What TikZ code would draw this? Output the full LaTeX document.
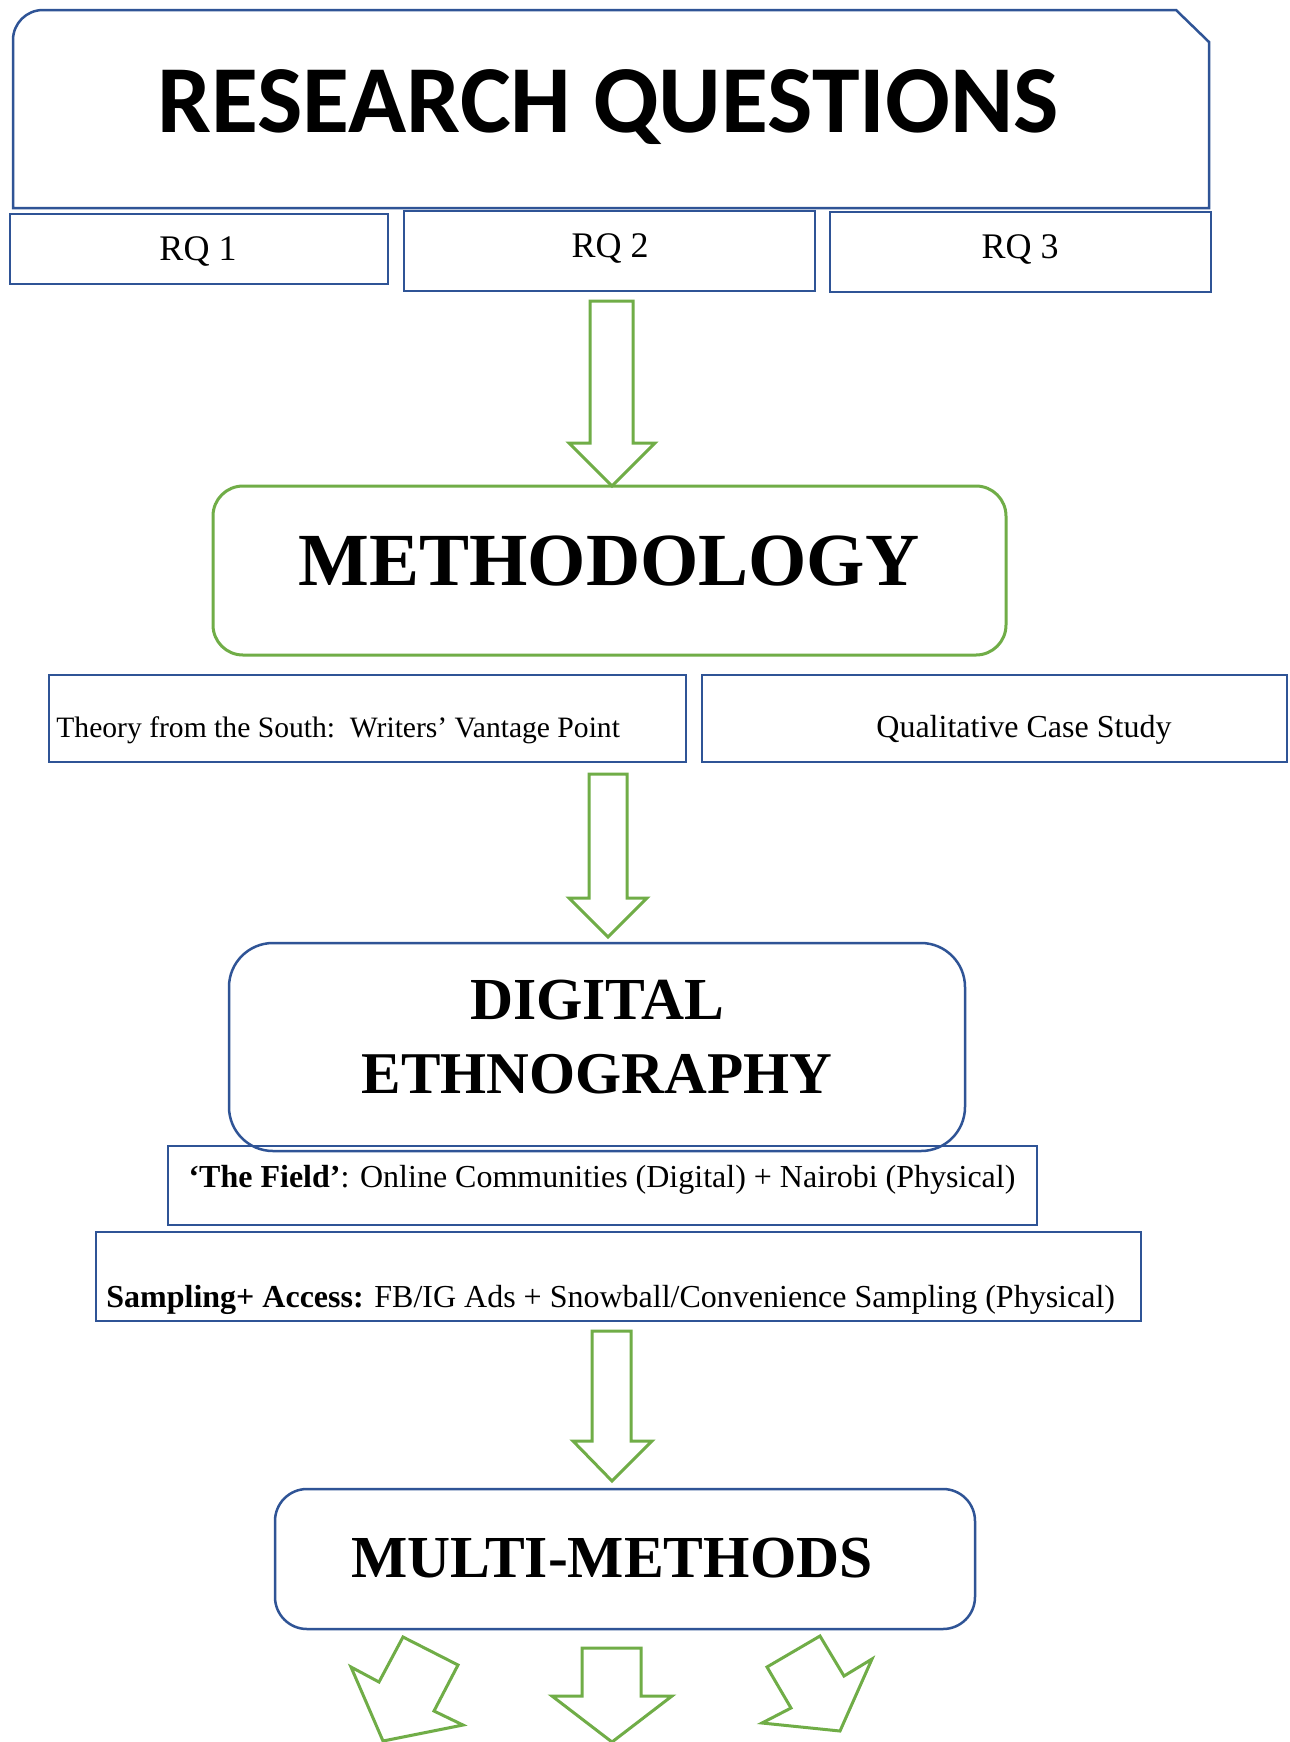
\documentclass[tikz,border=0pt]{standalone}
\usepackage{fontspec}
\setmainfont{Liberation Serif}
\newfontfamily\calibri{Carlito}
\definecolor{wblue}{HTML}{2F5496}
\definecolor{wgreen}{HTML}{70AD47}
\begin{document}
\begin{tikzpicture}[x=0.5pt,y=-0.5pt,
  bluebox/.style={draw=wblue,line width=1.25pt},
  greenbox/.style={draw=wgreen,line width=1.5pt},
  blockarrow/.style={draw=wgreen,line width=1.5pt,line join=miter},
  txt/.style={inner sep=0pt,anchor=base},
  ltxt/.style={inner sep=0pt,anchor=base west},
  fs/.style={font=\fontsize{#1}{#1}\selectfont}]
\useasboundingbox[fill=white] (0,0) rectangle (1290,1742);

% Research questions header
\draw[bluebox] (13,208) -- (13,40) .. controls (13,23.4) and (26.4,10) .. (43,10) -- (1176,10) -- (1209,42) -- (1209,208) -- cycle;
\node[txt,font=\calibri\bfseries\fontsize{48}{48}\selectfont] (rqtitle) at (608,132) {RESEARCH QUESTIONS};

\draw[bluebox] (10,214) rectangle (388,284);
\draw[bluebox] (404,211) rectangle (815,291);
\draw[bluebox] (830,212) rectangle (1211,292);
\node[txt,fs=18] (rq1) at (198,260) {RQ 1};
\node[txt,fs=18] (rq2) at (610,257) {RQ 2};
\node[txt,fs=18] (rq3) at (1020,258) {RQ 3};

% arrow 1
\draw[blockarrow] (590,301) -- (633,301) -- (633,443) -- (655,443) -- (612,486) -- (569,443) -- (590,443) -- cycle;

% Methodology
\draw[greenbox,rounded corners=15pt] (213,486) rectangle (1006,655);
\node[txt,font=\bfseries\fontsize{37.5}{37.5}\selectfont] (meth) at (609,585) {METHODOLOGY};

\draw[bluebox] (49,675) rectangle (686,762);
\draw[bluebox] (702,675) rectangle (1287,762);
\node[ltxt,fs=14.8] (theory) at (56,737) {Theory from the South:\ \ Writers’ Vantage Point};
\node[ltxt,fs=16] (qual) at (876,737) {Qualitative Case Study};

% arrow 2
\draw[blockarrow] (589,774) -- (627,774) -- (627,898) -- (647,898) -- (608,937) -- (569,898) -- (589,898) -- cycle;

% Digital ethnography
\draw[bluebox,rounded corners=22pt] (229,943) rectangle (965,1151);
\node[txt,font=\bfseries\fontsize{29.8}{29.8}\selectfont] (de1) at (597,1019) {DIGITAL};
\node[txt,font=\bfseries\fontsize{29.6}{29.6}\selectfont] (de2) at (597,1093) {ETHNOGRAPHY};

\draw[bluebox] (168,1146) rectangle (1037,1225);
\node[txt,fs=16] (field) at (602,1187) {\textbf{‘The Field’}: Online Communities (Digital) + Nairobi (Physical)};

\draw[bluebox] (96,1232) rectangle (1141,1321);
\node[ltxt,fs=16] (samp) at (106,1307) {\textbf{Sampling+ Access:} FB/IG Ads + Snowball/Convenience Sampling (Physical)};

% arrow 3
\draw[blockarrow] (592,1331) -- (631,1331) -- (631,1441) -- (652,1441) -- (612,1481) -- (573,1441) -- (592,1441) -- cycle;

% Multi-methods
\draw[bluebox,rounded corners=16pt] (275,1489) rectangle (975,1629);
\node[txt,font=\bfseries\fontsize{29.8}{29.8}\selectfont] (mm) at (612,1577) {MULTI-METHODS};

% bottom arrows
\draw[blockarrow] (403,1637) -- (458,1665) -- (434,1711) -- (463,1725) -- (383,1741) -- (351,1667) -- (379,1682) -- cycle;
\draw[blockarrow] (582,1648) -- (641,1648) -- (641,1696) -- (672,1696) -- (612,1742) -- (552,1696) -- (582,1696) -- cycle;
\draw[blockarrow] (820,1636) -- (844,1676) -- (872,1659) -- (840,1731) -- (762,1723) -- (791,1708) -- (767,1667) -- cycle;
\end{tikzpicture}
\end{document}
